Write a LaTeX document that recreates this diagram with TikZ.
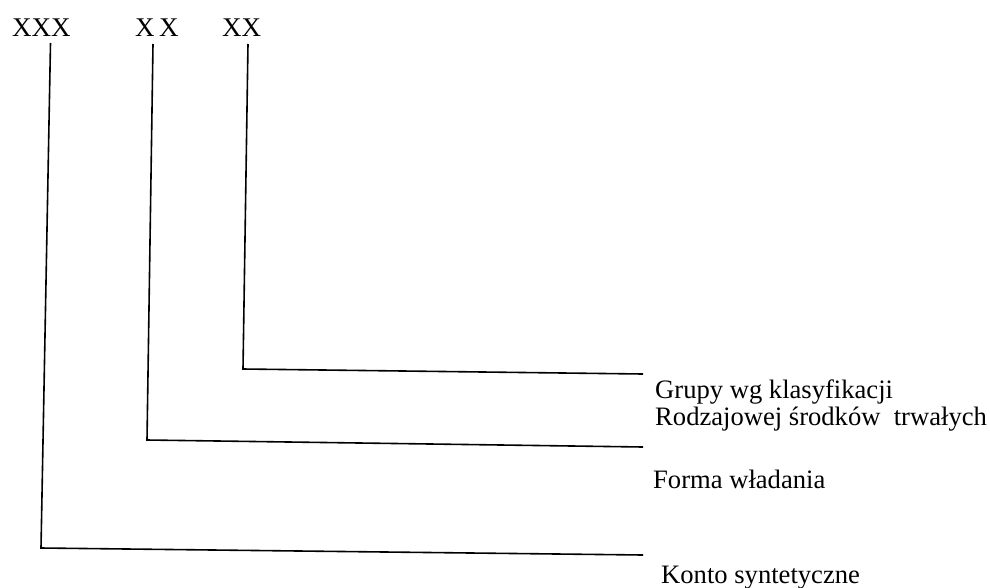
\documentclass[tikz,border=0pt]{standalone}
\usepackage{fontspec}
\setmainfont{Liberation Serif}
\begin{document}
\begin{tikzpicture}[x=1pt,y=-1pt,
  code/.style={inner sep=0pt,anchor=base west,font=\fontsize{27}{30}\selectfont},
  lab/.style={inner sep=0pt,anchor=base west,align=left,font=\fontsize{26.6}{27}\selectfont},
  conn/.style={line width=1.6pt,line join=miter}]
\useasboundingbox (0,0) rectangle (990,587);
\node[code] (c1) at (12,36) {XXX};
\node[code] (c2) at (135,36) {X\,X};
\node[code] (c3) at (222,36) {XX};
\coordinate (t1) at (50.5,43);
\coordinate (t2) at (153,44);
\coordinate (t3) at (248,44);
\coordinate (b1) at (41,548);
\coordinate (b2) at (147,440);
\coordinate (b3) at (243,369);
\coordinate (e1) at (643,555);
\coordinate (e2) at (643,447);
\coordinate (e3) at (643,374);
\node[lab] (l3) at (655,425) {Grupy wg klasyfikacji\\Rodzajowej środków\ \ trwałych};
\node[lab] (l2) at (653,488) {Forma władania};
\node[lab] (l1) at (661,583) {Konto syntetyczne};
\draw[conn] (t1) -- (b1) -- (e1);
\draw[conn] (t2) -- (b2) -- (e2);
\draw[conn] (t3) -- (b3) -- (e3);
\end{tikzpicture}
\end{document}
